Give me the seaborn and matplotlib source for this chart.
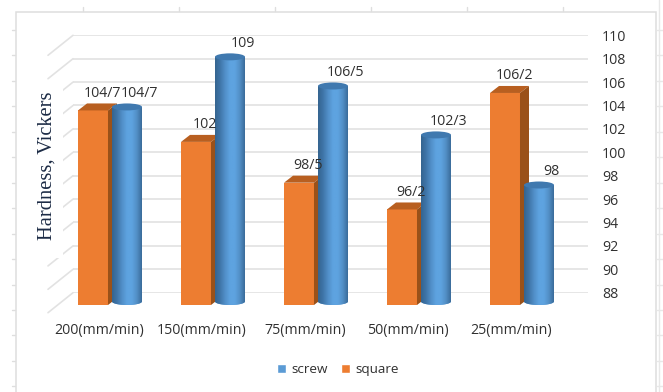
import numpy as np
import pandas as pd
import seaborn as sns
import matplotlib
matplotlib.use("Agg")
import matplotlib.pyplot as plt
from matplotlib.colors import LinearSegmentedColormap
from matplotlib.lines import Line2D
from matplotlib.patches import Ellipse, Patch, PathPatch, Polygon, Rectangle
from matplotlib.path import Path
from matplotlib.transforms import Affine2D

# Hardness readings per feed rate and pin profile
feed_rates = ["200(mm/min)", "150(mm/min)", "75(mm/min)", "50(mm/min)", "25(mm/min)"]
square_values = [104.7, 102.0, 98.5, 96.2, 106.2]
screw_values = [104.7, 109.0, 106.5, 102.3, 98.0]
square_labels = ["104/7", "102", "98/5", "96/2", "106/2"]
screw_labels = ["104/7", "109", "106/5", "102/3", "98"]
scale_ticks = list(range(88, 111, 2))

W, H = 663, 392
ORANGE, ORANGE_TOP, ORANGE_SIDE = "#ED7D31", "#B85F20", "#9A5119"
BLUE, BLUE_TOP = "#5B9BD5", "#4079AF"
GRID, FRAME = "#E2E2E2", "#DEDEDE"
TEXT = "#303030"

sns.set_theme(style="white")
plt.rcParams["font.family"] = ["Open Sans", "DejaVu Sans"]
plt.rcParams["font.size"] = 10

fig = plt.figure(figsize=(W / 100, H / 100), dpi=100, facecolor="white")
# Pixel coordinates with the origin at the top left, for the sheet furniture
px = Affine2D().scale(1, -1).translate(0, H)


def box(left, top, right, bottom):
    return [left / W, 1 - bottom / H, (right - left) / W, (bottom - top) / H]


# Sheet frame and the faint cell lines around it
fig.add_artist(Rectangle((15.5, 11.5), 640, 400, fc="white", ec=FRAME, lw=1.1,
                         transform=px, zorder=-5))
fig.add_artist(Line2D([659, 659], [0, H], color="#E8E8E8", lw=1, transform=px, zorder=-5))
for cx in np.arange(83, 600, 96):
    fig.add_artist(Line2D([cx, cx], [7, 11], color=FRAME, lw=1, transform=px, zorder=-5))
for cy in np.arange(30, H, 25.45):
    fig.add_artist(Line2D([12, 15], [cy, cy], color=FRAME, lw=1, transform=px, zorder=-5))
    fig.add_artist(Line2D([657, W], [cy, cy], color="#E8E8E8", lw=1, transform=px, zorder=-5))

# Back wall: value scale, gridlines and the receding side wall
wall = fig.add_axes(box(73, 35.3, 588, 292.7), facecolor="none", zorder=1)
wall.set_ylim(88, 110)
wall.set_xlim(0, 1)
wall.set_xticks([])
wall.set_yticks(scale_ticks)
wall.yaxis.tick_right()
wall.tick_params(axis="y", length=0, pad=10.2, labelsize=10.2, labelcolor=TEXT)
wall.grid(axis="y", color=GRID, lw=1.2)
sns.despine(ax=wall, left=True, right=True, top=True, bottom=True)
for tick in scale_ticks:
    wall.add_line(Line2D([-25 / 515, 0], [tick - 20 / 11.7, tick], color=GRID, lw=1.2,
                         clip_on=False))

# White panel behind the axis title, interrupting the side wall
fig.add_artist(Rectangle((35, 85), 28, 173, fc="white", ec="none", transform=px, zorder=2))
fig.add_artist(plt.Text(47, 166, "Hardness, Vickers", rotation=90, ha="center", va="center",
                        family=["Liberation Serif"], fontsize=14.8, color="#1C2B45",
                        transform=px, zorder=3))

# Front plane: bars sit on the floor at 88 and share the same scale
ax = fig.add_axes(box(0, 0, W, 305), facecolor="none", zorder=4)
data = pd.DataFrame({
    "feed": feed_rates * 2,
    "profile": ["square"] * 5 + ["screw"] * 5,
    "hardness": square_values + screw_values,
})
sns.barplot(data=data, x="feed", y="hardness", hue="profile", hue_order=["square", "screw"],
            palette={"square": ORANGE, "screw": BLUE}, saturation=1, width=0.66, gap=0.118,
            legend=False, linewidth=0, ax=ax)
x_left = -110 / 103
ax.set_xlim(x_left, x_left + W / 103)
ax.set_ylim(88, 88 + 305 / 11.65)
ax.set_xlabel("")
ax.set_ylabel("")
ax.set_yticks([])
sns.despine(ax=ax, left=True, right=True, top=True, bottom=True)
ax.tick_params(axis="x", length=0, pad=13, labelsize=10.2, labelcolor=TEXT)
shift = Affine2D().translate(-11, 0)
for label in ax.get_xticklabels():
    label.set_transform(label.get_transform() + shift)

depth_x, depth_y = 9 / 103, 7 / 11.65
ell_h = 7 / 11.65
bars = list(ax.patches)
square_bars, screw_bars = bars[:5], bars[5:]

for bar in square_bars:
    x0, x1, top = bar.get_x(), bar.get_x() + bar.get_width(), bar.get_height()
    bar.set_zorder(2)
    ax.add_patch(Polygon([(x0, top), (x1, top), (x1 + depth_x, top + depth_y), (x0 + depth_x, top + depth_y)],
                         fc=ORANGE_TOP, ec="none", zorder=2.2))
    ax.add_patch(Polygon([(x1, top), (x1 + depth_x, top + depth_y), (x1 + depth_x, 88 + depth_y), (x1, 88)],
                         fc=ORANGE_SIDE, ec="none", zorder=2.2))

shade = LinearSegmentedColormap.from_list(
    "cylinder", ["#35648F", "#3F75A8", "#518FC8", "#5EA3E0", "#5EA3E0", "#528FC6", "#3A6C9A"])
ramp = np.linspace(0, 1, 128)[None, :]
for bar in screw_bars:
    x0, width, top = bar.get_x(), bar.get_width(), bar.get_height()
    x1, xc = x0 + width, x0 + width / 2
    bar.set_zorder(3)
    # Body outline: straight sides with a rounded foot on the floor
    foot = 88 + ell_h / 2
    rim = top + ell_h / 2
    arc = np.linspace(np.pi, 2 * np.pi, 24)
    verts = [(x0, rim)] + list(zip(xc + width / 2 * np.cos(arc), foot + ell_h / 2 * np.sin(arc))) + [(x1, rim), (x0, rim)]
    outline = PathPatch(Path(verts), fc="none", ec="none", transform=ax.transData)
    ax.add_patch(outline)
    bar.set_clip_path(outline)
    body = ax.imshow(ramp, cmap=shade, extent=(x0, x1, 88, rim), aspect="auto", zorder=3.1,
                     interpolation="bilinear", origin="lower")
    body.set_clip_path(outline)
    ax.add_patch(Ellipse((xc, rim), width, ell_h, fc=BLUE_TOP, ec="none", zorder=3.2))
ax.set_xlim(x_left, x_left + W / 103)
ax.set_ylim(88, 88 + 305 / 11.65)
ax.set_aspect("auto")

# Value labels sit up and to the right of each bar top
for group, texts, nudge in ((square_bars, square_labels, 9), (screw_bars, screw_labels, 12.4)):
    for bar, text in zip(group, texts):
        cx = bar.get_x() + bar.get_width() / 2
        ax.annotate(text, (cx, bar.get_height()), xytext=(nudge * 0.72, 17.2 * 0.72),
                    textcoords="offset points", ha="center", va="center", fontsize=10.2,
                    color=TEXT, zorder=6, annotation_clip=False)

handles = [Patch(fc=BLUE, label="screw"), Patch(fc=ORANGE, label="square")]
fig.legend(handles=handles, ncol=2, frameon=False, loc="center", bbox_to_anchor=(338 / W, 1 - 369.5 / H),
           fontsize=9.7, handlelength=0.68, handleheight=0.68, handletextpad=0.4, columnspacing=1.0,
           labelcolor=TEXT, borderpad=0, borderaxespad=0)

fig.savefig("out.png", dpi=100, facecolor="white")
